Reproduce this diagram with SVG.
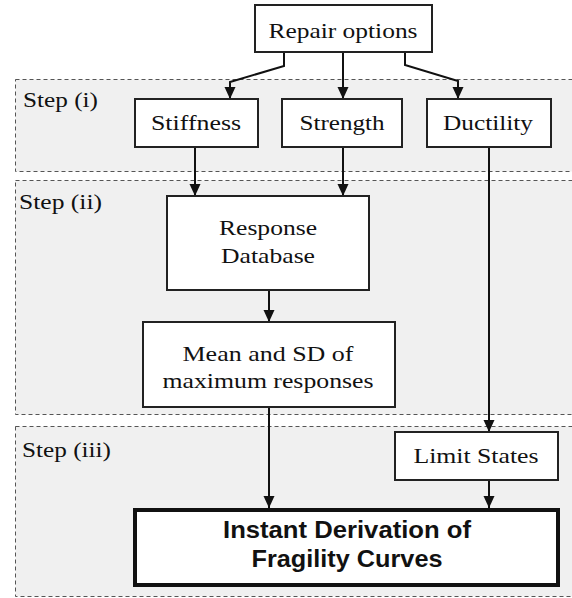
<svg xmlns="http://www.w3.org/2000/svg" width="572" height="598" viewBox="0 0 572 598">
<defs>
<style>
.panel{fill:#f0f0f0;stroke:#555;stroke-width:1;stroke-dasharray:4 3}
.box{fill:#fff;stroke:#222;stroke-width:2}
.bold{fill:#fff;stroke:#111;stroke-width:4}
.c{fill:none;stroke:#111;stroke-width:2}
</style>
<marker id="ah" markerWidth="12" markerHeight="12" viewBox="0 0 12 12" refX="12" refY="6" orient="auto" markerUnits="userSpaceOnUse">
<path d="M0,0.5 L12,6 L0,11.5 Z" fill="#111"/>
</marker>
</defs>
<rect width="572" height="598" fill="#fff"/>
<g id="panels">
<rect class="panel" x="15.5" y="79.5" width="560" height="92"/>
<rect class="panel" x="15.5" y="180.5" width="560" height="234"/>
<rect class="panel" x="15.5" y="426.5" width="560" height="170"/>
<g font-family="Liberation Serif, serif" font-size="22" fill="#111">
<text x="23" y="107" textLength="75" lengthAdjust="spacingAndGlyphs">Step (i)</text>
<text x="19" y="209" textLength="83" lengthAdjust="spacingAndGlyphs">Step (ii)</text>
<text x="22" y="457" textLength="89" lengthAdjust="spacingAndGlyphs">Step (iii)</text>
</g>
</g>
<g id="connectors">
<path class="c" d="M284,53 L284,66 L230,82 L230,99" marker-end="url(#ah)"/>
<path class="c" d="M343,53 L343,99" marker-end="url(#ah)"/>
<path class="c" d="M405,53 L405,65 L458,81 L458,99" marker-end="url(#ah)"/>
<path class="c" d="M195,148 L195,196" marker-end="url(#ah)"/>
<path class="c" d="M343,148 L343,196" marker-end="url(#ah)"/>
<path class="c" d="M489,148 L489,432" marker-end="url(#ah)"/>
<path class="c" d="M269,291 L269,322" marker-end="url(#ah)"/>
<path class="c" d="M269,408 L269,508" marker-end="url(#ah)"/>
<path class="c" d="M489,481 L489,508" marker-end="url(#ah)"/>
</g>
<g font-family="Liberation Serif, serif" font-size="22" fill="#111" text-anchor="middle">
<g id="repair">
<rect class="box" x="255" y="5" width="177" height="47"/>
<text x="343" y="38" textLength="149" lengthAdjust="spacingAndGlyphs">Repair options</text>
</g>
<g id="stiffness">
<rect class="box" x="135" y="99" width="123" height="48"/>
<text x="196" y="130" textLength="90" lengthAdjust="spacingAndGlyphs">Stiffness</text>
</g>
<g id="strength">
<rect class="box" x="282" y="99" width="120" height="48"/>
<text x="342" y="130" textLength="85" lengthAdjust="spacingAndGlyphs">Strength</text>
</g>
<g id="ductility">
<rect class="box" x="427" y="99" width="124" height="48"/>
<text x="488" y="130" textLength="90" lengthAdjust="spacingAndGlyphs">Ductility</text>
</g>
<g id="response">
<rect class="box" x="167" y="196" width="202" height="94"/>
<text x="268" y="235" textLength="98" lengthAdjust="spacingAndGlyphs">Response</text>
<text x="268" y="263" textLength="94" lengthAdjust="spacingAndGlyphs">Database</text>
</g>
<g id="mean">
<rect class="box" x="143" y="322" width="252" height="85"/>
<text x="268" y="361" textLength="171" lengthAdjust="spacingAndGlyphs">Mean and SD of</text>
<text x="268" y="388" textLength="211" lengthAdjust="spacingAndGlyphs">maximum responses</text>
</g>
<g id="limit">
<rect class="box" x="395" y="432" width="163" height="48"/>
<text x="476" y="463" textLength="125" lengthAdjust="spacingAndGlyphs">Limit States</text>
</g>
</g>
<g id="instant" font-family="Liberation Sans, Arial, sans-serif" font-weight="bold" font-size="24" fill="#111" text-anchor="middle">
<rect class="bold" x="135" y="510" width="423" height="75"/>
<text x="347" y="538" textLength="248" lengthAdjust="spacingAndGlyphs">Instant Derivation of</text>
<text x="347" y="567" textLength="191" lengthAdjust="spacingAndGlyphs">Fragility Curves</text>
</g>
</svg>
